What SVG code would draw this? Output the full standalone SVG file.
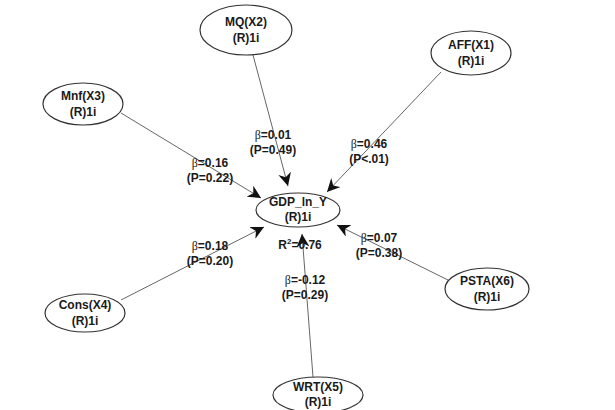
<svg xmlns="http://www.w3.org/2000/svg" width="615" height="410" viewBox="0 0 615 410">
<style>
.n ellipse{fill:#fff;stroke:#333;stroke-width:1.2}
text{font-family:"Liberation Sans",Arial,sans-serif;font-weight:bold;font-size:12px;fill:#1a1a1a;text-anchor:middle}
.b{font-family:"Liberation Serif",serif;font-weight:normal}
.c line{stroke:#666;stroke-width:1}
</style>
<defs>
<marker id="ah" markerWidth="16" markerHeight="14" refX="13" refY="6.5" orient="auto" markerUnits="userSpaceOnUse">
<path d="M0,0 L13,6.5 L0,13 L4,6.5 Z" fill="#111"/>
</marker>
</defs>
<g class="c" id="connectors">
<line x1="253" y1="55" x2="288" y2="186" marker-end="url(#ah)"/>
<line x1="441" y1="72" x2="327" y2="192" marker-end="url(#ah)"/>
<line x1="121" y1="113" x2="261" y2="198" marker-end="url(#ah)"/>
<line x1="121" y1="300" x2="264" y2="227" marker-end="url(#ah)"/>
<line x1="450" y1="281" x2="337" y2="225" marker-end="url(#ah)"/>
<line x1="313" y1="377" x2="302" y2="234" marker-end="url(#ah)"/>
</g>
<g id="labels">
<text x="273" y="139"><tspan class="b">β</tspan>=0.01</text>
<text x="273" y="154">(P=0.49)</text>
<text x="369" y="148"><tspan class="b">β</tspan>=0.46</text>
<text x="369" y="163">(P&lt;.01)</text>
<text x="210" y="167"><tspan class="b">β</tspan>=0.16</text>
<text x="210" y="182">(P=0.22)</text>
<text x="210" y="250"><tspan class="b">β</tspan>=0.18</text>
<text x="210" y="265">(P=0.20)</text>
<text x="300" y="249">R<tspan font-size="8" dy="-5">2</tspan><tspan dy="5">=0.76</tspan></text>
<text x="379" y="242"><tspan class="b">β</tspan>=0.07</text>
<text x="379" y="257">(P=0.38)</text>
<text x="305" y="284"><tspan class="b">β</tspan>=-0.12</text>
<text x="305" y="299">(P=0.29)</text>
</g>
<g class="n" id="mq"><ellipse cx="246" cy="30" rx="46" ry="25"/><text x="246" y="26">MQ(X2)</text><text x="246" y="42">(R)1i</text></g>
<g class="n" id="mnf"><ellipse cx="83" cy="104" rx="40" ry="21"/><text x="83" y="100">Mnf(X3)</text><text x="83" y="116">(R)1i</text></g>
<g class="n" id="aff"><ellipse cx="471" cy="53" rx="40" ry="22"/><text x="471" y="49">AFF(X1)</text><text x="471" y="65">(R)1i</text></g>
<g class="n" id="gdp"><ellipse cx="298" cy="210" rx="42" ry="17"/><text x="298" y="206">GDP_ln_Y</text><text x="298" y="221">(R)1i</text></g>
<g class="n" id="cons"><ellipse cx="85" cy="313" rx="40" ry="19"/><text x="85" y="309">Cons(X4)</text><text x="85" y="325">(R)1i</text></g>
<g class="n" id="psta"><ellipse cx="487" cy="289" rx="42" ry="21"/><text x="487" y="285">PSTA(X6)</text><text x="487" y="301">(R)1i</text></g>
<g class="n" id="wrt"><ellipse cx="318" cy="395" rx="45" ry="18"/><text x="318" y="391">WRT(X5)</text><text x="318" y="406">(R)1i</text></g>
</svg>
